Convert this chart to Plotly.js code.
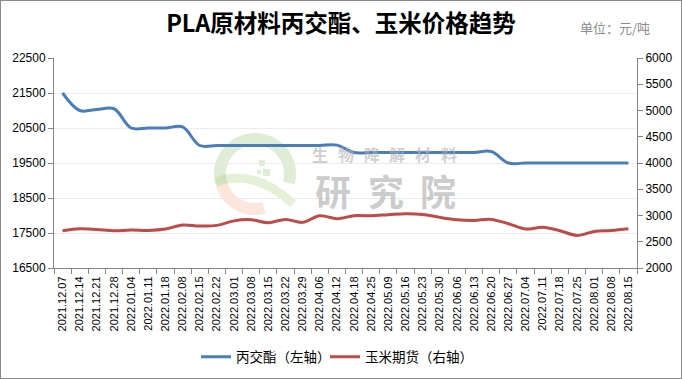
<!DOCTYPE html>
<html>
<head>
<meta charset="utf-8">
<script src="https://cdn.plot.ly/plotly-3.0.1.min.js"></script>
<style>
  html, body { margin: 0; padding: 0; background: #fff; }
  #wrap { position: relative; width: 682px; height: 379px; }
  #chart { position: absolute; left: 0; top: 0; width: 682px; height: 379px; }
  #frame { position: absolute; left: 0; top: 0; width: 682px; height: 379px; box-sizing: border-box; border: 1px solid #8a8a8a; pointer-events: none; }
</style>
</head>
<body>
<div id="wrap"><div id="chart"></div><div id="frame"></div></div>
<script>
const dates = ["2021.12.07","2021.12.14","2021.12.21","2021.12.28","2022.01.04","2022.01.11","2022.01.18","2022.02.08","2022.02.15","2022.02.22","2022.03.01","2022.03.08","2022.03.15","2022.03.22","2022.03.29","2022.04.06","2022.04.12","2022.04.18","2022.04.25","2022.05.09","2022.05.16","2022.05.23","2022.05.30","2022.06.06","2022.06.13","2022.06.20","2022.06.27","2022.07.04","2022.07.11","2022.07.18","2022.07.25","2022.08.01","2022.08.08","2022.08.15"];
const lactide = [21500,21000,21030,21050,20500,20500,20500,20530,20000,20000,20000,20000,20000,20000,20000,20000,20010,19800,19800,19800,19800,19800,19800,19800,19800,19830,19500,19500,19500,19500,19500,19500,19500,19500];
const corn = [2710,2748,2735,2710,2723,2716,2742,2818,2799,2812,2898,2920,2863,2926,2869,2996,2939,2996,2996,3015,3034,3021,2964,2920,2907,2926,2844,2742,2774,2710,2621,2697,2716,2748];
const leftTicks = [16500,17500,18500,19500,20500,21500,22500];
const rightTicks = [2000,2500,3000,3500,4000,4500,5000,5500,6000];
const seriesNames = ["丙交酯（左轴）","玉米期货（右轴）"];
const titleText = "PLA原材料丙交酯、玉米价格趋势";
const unitText = "单位：元/吨";
const wm1 = "生物降解材料";
const wm2 = "研究院";

// plot-area geometry (pixels) for decorative watermark placement
const L = 54, R = 637, T = 58, B = 268;
const px = x => (x - L) / (R - L);
const py = y => (B - y) / (B - T);

function arcPath(cx, cy, r, a0, a1) {
  let s = "";
  const n = 40;
  for (let i = 0; i <= n; i++) {
    const a = (a0 + (a1 - a0) * i / n) * Math.PI / 180;
    const x = cx + r * Math.cos(a), y = cy - r * Math.sin(a);
    s += (i === 0 ? "M" : "L") + px(x).toFixed(4) + "," + py(y).toFixed(4);
  }
  return s;
}

const shapes = [
  {type: "path", xref: "paper", yref: "paper", layer: "below", path: arcPath(255, 174, 35, -15, 195), line: {color: "rgba(150,195,120,0.3)", width: 12}},
  {type: "path", xref: "paper", yref: "paper", layer: "below", path: arcPath(255, 174, 35, 195, 285), line: {color: "rgba(245,150,110,0.24)", width: 12}},
  {type: "path", xref: "paper", yref: "paper", layer: "below",
   path: "M" + px(216) + "," + py(182) + " Q" + px(255) + "," + py(168) + " " + px(293) + "," + py(204),
   line: {color: "rgba(170,205,130,0.3)", width: 9}},
  {type: "rect", xref: "paper", yref: "paper", layer: "below", x0: px(259), x1: px(265), y0: py(166), y1: py(160), fillcolor: "rgba(150,195,120,0.3)", line: {width: 0}},
  {type: "rect", xref: "paper", yref: "paper", layer: "below", x0: px(263), x1: px(270), y0: py(176), y1: py(169), fillcolor: "rgba(150,195,120,0.3)", line: {width: 0}},
  {type: "rect", xref: "paper", yref: "paper", layer: "below", x0: px(257), x1: px(261), y0: py(174), y1: py(170), fillcolor: "rgba(150,195,120,0.3)", line: {width: 0}}
];

const annotations = [
  {xref: "paper", yref: "paper", x: px(578), y: py(27), xanchor: "left", yanchor: "middle", text: unitText, showarrow: false,
   font: {family: "Noto Sans CJK SC", size: 13, color: "#8c8c8c"}}
];
for (let i = 0; i < wm1.length; i++) {
  annotations.push({xref: "paper", yref: "paper", x: px(320 + i * 25.8), y: py(154), xanchor: "center", yanchor: "middle",
    text: wm1[i], showarrow: false, borderpad: 0, font: {family: "Noto Sans CJK SC", size: 16, weight: "bold", color: "rgba(175,175,175,0.6)"}});
}
for (let i = 0; i < wm2.length; i++) {
  annotations.push({xref: "paper", yref: "paper", x: px(333 + i * 52.5), y: py(190), xanchor: "center", yanchor: "middle",
    text: wm2[i], showarrow: false, borderpad: 0, font: {family: "Noto Sans CJK SC", size: 36, weight: "bold", color: "rgba(170,170,170,0.6)"}});
}

const traces = [
  {x: dates, y: lactide, name: seriesNames[0], type: "scatter", mode: "lines", yaxis: "y", legend: "legend",
   line: {color: "#4A7EBB", width: 3, shape: "spline", smoothing: 1}},
  {x: dates, y: corn, name: seriesNames[1], type: "scatter", mode: "lines", yaxis: "y2", legend: "legend2",
   line: {color: "#BE4B48", width: 3, shape: "spline", smoothing: 1}}
];

const axisFont = {family: "Liberation Sans, Arial, sans-serif", size: 12, color: "#000"};
const legendFont = {family: "Noto Sans CJK SC", size: 13.5, color: "#000"};
const layout = {
  width: 682, height: 379,
  margin: {l: L, r: 682 - R, t: T, b: 379 - B},
  paper_bgcolor: "#fff", plot_bgcolor: "#fff",
  showlegend: true,
  title: {text: titleText, x: 0.5, xref: "container", xanchor: "center", y: 1 - 24 / 379, yref: "container", yanchor: "middle",
          font: {family: "Noto Sans CJK SC", size: 23.5, weight: "bold", color: "#000"}},
  xaxis: {type: "category", range: [-0.5, dates.length - 0.5], tickangle: -90, tickson: "boundaries",
          ticks: "outside", ticklen: 5, tickcolor: "#868686", showline: true, linecolor: "#868686", linewidth: 1,
          showgrid: false, zeroline: false, fixedrange: true, ticklabelstandoff: 3,
          tickfont: {family: "Liberation Sans, Arial, sans-serif", size: 11, color: "#000"}},
  yaxis: {range: [leftTicks[0], leftTicks[leftTicks.length - 1]], tickvals: leftTicks, ticktext: leftTicks.map(String),
          ticks: "outside", ticklen: 5, tickcolor: "#868686", showline: true, linecolor: "#868686", linewidth: 1,
          showgrid: true, gridcolor: "#ebebeb", gridwidth: 1, zeroline: false, tickfont: axisFont},
  yaxis2: {range: [rightTicks[0], rightTicks[rightTicks.length - 1]], tickvals: rightTicks, ticktext: rightTicks.map(String),
           overlaying: "y", side: "right", ticks: "outside", ticklen: 5, tickcolor: "#868686", showline: true,
           linecolor: "#868686", linewidth: 1, showgrid: false, zeroline: false, tickfont: axisFont},
  legend: {orientation: "h", x: 196 / 682, xref: "container", xanchor: "left", y: 1 - 357 / 379, yref: "container", yanchor: "middle",
           font: legendFont, bgcolor: "rgba(0,0,0,0)", itemwidth: 30},
  legend2: {orientation: "h", x: 325 / 682, xref: "container", xanchor: "left", y: 1 - 357 / 379, yref: "container", yanchor: "middle",
           font: legendFont, bgcolor: "rgba(0,0,0,0)", itemwidth: 30},
  shapes: shapes,
  annotations: annotations
};

Plotly.newPlot("chart", traces, layout, {displayModeBar: false, staticPlot: true});
</script>
</body>
</html>
